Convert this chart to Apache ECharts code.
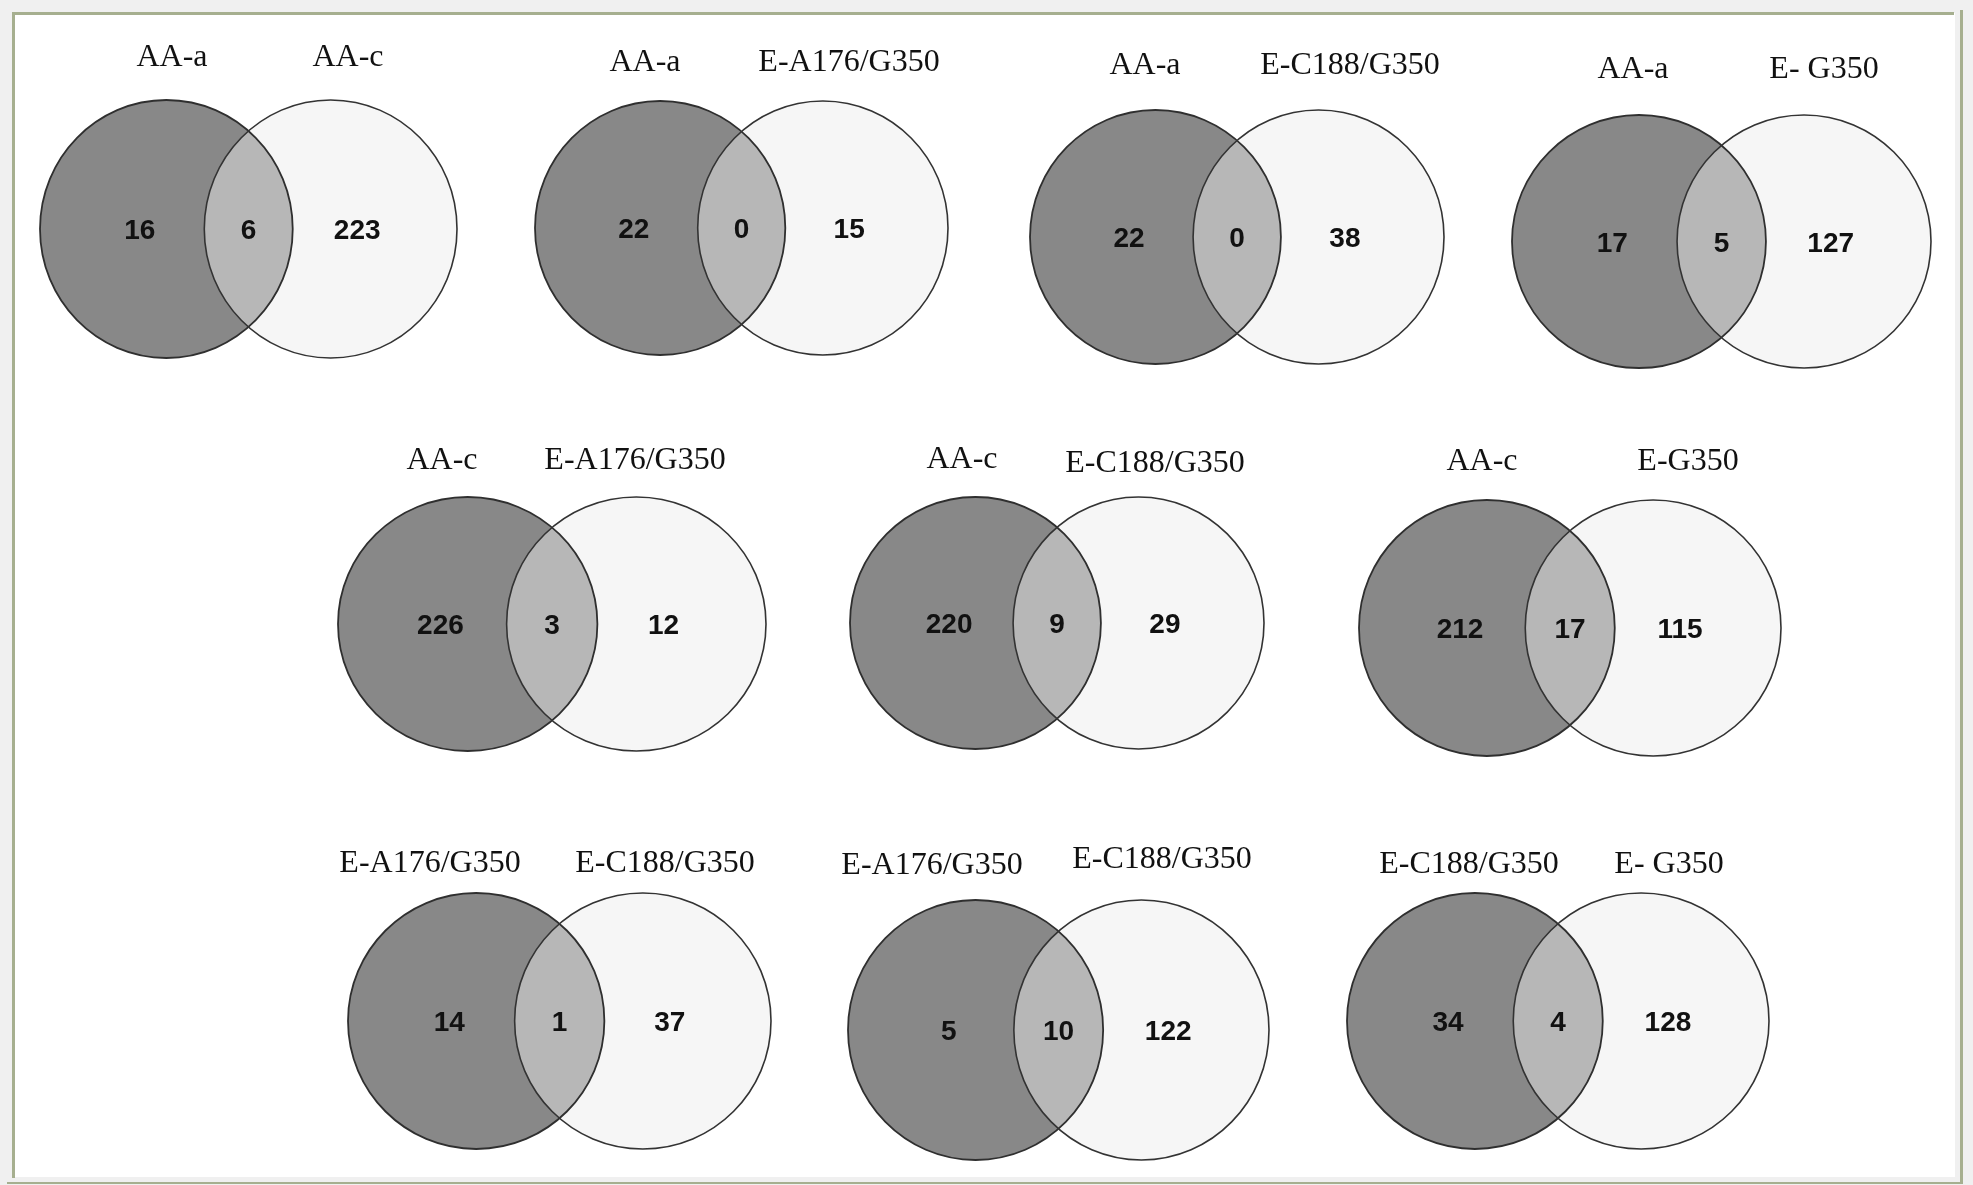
<!DOCTYPE html>
<html>
<head>
<meta charset="utf-8">
<script src="https://cdn.jsdelivr.net/npm/echarts@6/dist/echarts.min.js"></script>
<style>
  html, body { margin: 0; padding: 0; background: #f0f0f0; }
  #chart { width: 1973px; height: 1185px; }
</style>
</head>
<body>
<div id="chart"></div>
<script>
// Pairwise comparisons: name of the left set and the right set
const firstSet  = ['AA-a', 'AA-a', 'AA-a', 'AA-a', 'AA-c', 'AA-c', 'AA-c', 'E-A176/G350', 'E-A176/G350', 'E-C188/G350'];
const secondSet = ['AA-c', 'E-A176/G350', 'E-C188/G350', 'E- G350', 'E-A176/G350', 'E-C188/G350', 'E-G350', 'E-C188/G350', 'E-C188/G350', 'E- G350'];

// Counts: only in the left set, in both, only in the right set
const onlyFirst  = [16, 22, 22, 17, 226, 220, 212, 14, 5, 34];
const shared     = [6, 0, 0, 5, 3, 9, 17, 1, 10, 4];
const onlySecond = [223, 15, 38, 127, 12, 29, 115, 37, 122, 128];

// Panel placement (px): box of the two circles, and where the two set names sit
const panelBox = [
  [40, 100, 417, 258], [535, 101, 413, 254], [1030, 110, 414, 254], [1512, 115, 419, 253],
  [338, 497, 428, 254], [850, 497, 414, 252], [1359, 500, 422, 256],
  [348, 893, 423, 256], [848, 900, 421, 260], [1347, 893, 422, 256]
];
const namePos = [
  [[172, 66], [348, 66]], [[645, 71], [849, 71]], [[1145, 74], [1350, 74]], [[1633, 78], [1824, 78]],
  [[442, 469], [635, 469]], [[962, 468], [1155, 472]], [[1482, 470], [1688, 470]],
  [[430, 872], [665, 872]], [[932, 874], [1162, 868]], [[1469, 873], [1669, 873]]
];

// Circle geometry on each panel's own axes: unit radius, centers 1.3 apart
const LEFT_C = 1, RIGHT_C = 2.3, X_MAX = 3.3;
const LABEL_X = [0.79, 1.65, 2.51];

const chart = echarts.init(document.getElementById('chart'), null, { renderer: 'canvas' });

const grids = [], xAxes = [], yAxes = [], series = [];
panelBox.forEach((b, i) => {
  grids.push({ left: b[0], top: b[1], width: b[2], height: b[3], containLabel: false });
  xAxes.push({ type: 'value', gridIndex: i, min: 0, max: X_MAX, show: false });
  yAxes.push({ type: 'value', gridIndex: i, min: -1, max: 1, show: false });
  series.push({
    type: 'custom',
    coordinateSystem: 'cartesian2d',
    xAxisIndex: i,
    yAxisIndex: i,
    clip: false,
    silent: true,
    data: [[onlyFirst[i], shared[i], onlySecond[i]]],
    encode: { x: -1, y: -1 },
    renderItem: function (params, api) {
      const c1 = api.coord([LEFT_C, 0]);
      const c2 = api.coord([RIGHT_C, 0]);
      const rx = api.size([1, 0])[0];
      const ry = api.size([0, 1])[1];
      const ell = (c, style) => ({ type: 'ellipse', shape: { cx: c[0], cy: c[1], rx: rx, ry: ry }, style: style });
      const nums = [api.value(0), api.value(1), api.value(2)];
      const texts = LABEL_X.map((lx, k) => {
        const p = api.coord([lx, 0]);
        return {
          type: 'text', x: p[0], y: p[1] + 2.5,
          style: {
            text: String(nums[k]),
            font: 'bold 28px "Liberation Sans", Arial, sans-serif',
            fill: '#111',
            align: 'center', verticalAlign: 'middle',
            textAlign: 'center', textVerticalAlign: 'middle'
          }
        };
      });
      return {
        type: 'group',
        children: [
          ell(c1, { fill: '#888888' }),
          ell(c2, { fill: 'rgba(236,236,236,0.47)' }),
          ell(c1, { fill: 'none', stroke: '#2f2f2f', lineWidth: 1.8 }),
          ell(c2, { fill: 'none', stroke: '#333333', lineWidth: 1.6 })
        ].concat(texts)
      };
    }
  });
});

// Frame around the figure
const FRAME = '#a6af8f';
const graphic = [
  { type: 'rect', z: 0, shape: { x: 13, y: 13, width: 1942, height: 1164 }, style: { fill: '#ffffff' } },
  { type: 'rect', z: 0, shape: { x: 12, y: 12, width: 1942, height: 3 }, style: { fill: FRAME } },
  { type: 'rect', z: 0, shape: { x: 12, y: 12, width: 3, height: 1166 }, style: { fill: FRAME } },
  { type: 'rect', z: 0, shape: { x: 1960, y: 10, width: 3, height: 1174 }, style: { fill: FRAME } },
  { type: 'rect', z: 0, shape: { x: 7, y: 1182, width: 1956, height: 2 }, style: { fill: FRAME } }
];
namePos.forEach((pair, i) => {
  [firstSet[i], secondSet[i]].forEach((name, k) => {
    graphic.push({
      type: 'text', z: 10,
      x: pair[k][0], y: pair[k][1] - 8,
      style: {
        text: name,
        font: '32px "Liberation Serif", "Times New Roman", serif',
        fill: '#111',
        align: 'center', verticalAlign: 'middle',
        textAlign: 'center', textVerticalAlign: 'middle'
      }
    });
  });
});

chart.setOption({
  backgroundColor: '#f0f0f0',
  animation: false,
  grid: grids,
  xAxis: xAxes,
  yAxis: yAxes,
  graphic: { elements: graphic },
  series: series
});
</script>
</body>
</html>
